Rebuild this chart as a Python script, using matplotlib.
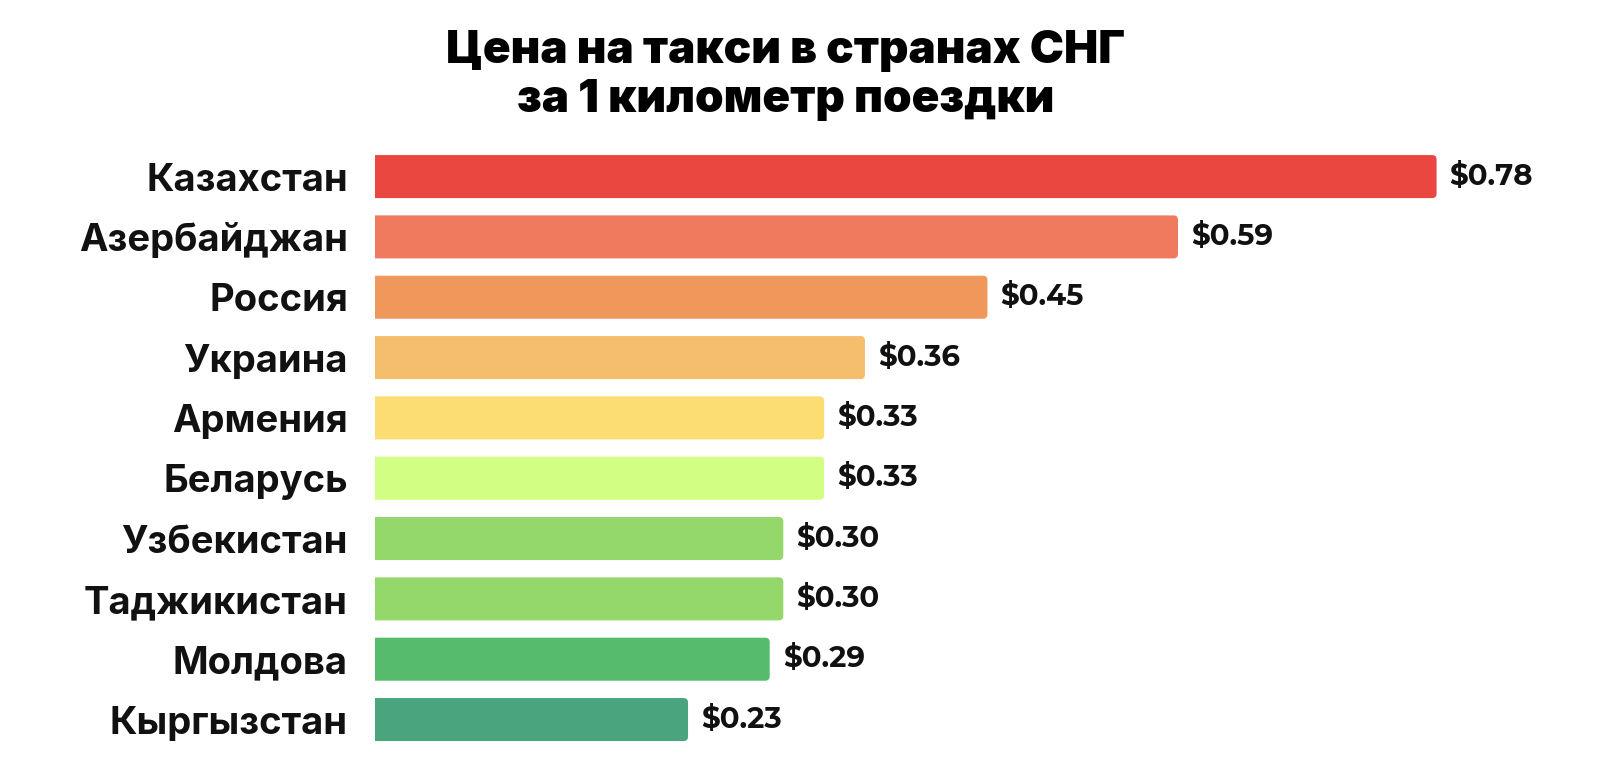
import matplotlib
matplotlib.use("Agg")
import matplotlib.pyplot as plt
from matplotlib.patches import FancyBboxPatch

countries = [
    "Казахстан",
    "Азербайджан",
    "Россия",
    "Украина",
    "Армения",
    "Беларусь",
    "Узбекистан",
    "Таджикистан",
    "Молдова",
    "Кыргызстан",
]
prices = [0.78, 0.59, 0.45, 0.36, 0.33, 0.33, 0.30, 0.30, 0.29, 0.23]
colors = [
    "#EA4740",
    "#EF7A5D",
    "#F0975B",
    "#F5BE6D",
    "#FBDD72",
    "#D2FE84",
    "#94D76A",
    "#94D76A",
    "#56BB6B",
    "#4AA57E",
]
title = "Цена на такси в странах СНГ\nза 1 километр поездки"

BAR_H = 0.713
PX = 1 / 1361  # one pixel in x data units
XMAX = 1200 * PX

fig = plt.figure(figsize=(16, 7.6), dpi=100, facecolor="white")
ax = fig.add_axes([375 / 1600, 0.01355, 1200 / 1600, 0.7938])
ax.set_xlim(0, XMAX)
ax.set_ylim(9.5, -0.5)

# invisible bars for geometry, rounded patches drawn over them
bars = ax.barh(range(len(countries)), prices, height=BAR_H, color="none")
aspect = (1 / 60.33) / PX
for bar, c in zip(bars, colors):
    x, y = bar.get_x(), bar.get_y()
    w, h = bar.get_width(), bar.get_height()
    # start left of the axes so the left corners get clipped square
    ax.add_patch(
        FancyBboxPatch(
            (x - 10 * PX, y), w + 10 * PX, h,
            boxstyle=f"round,pad=0,rounding_size={4.5 * PX}",
            mutation_aspect=aspect,
            facecolor=c, edgecolor="none",
        )
    )

for i, v in enumerate(prices):
    ax.text(v + 13 * PX, i, f"${v:.2f}", va="center", ha="left",
            fontsize=21, fontweight="bold",
            family=["Montserrat Alternates", "DejaVu Sans"], color="#111111")

ax.set_yticks(range(len(countries)))
ax.set_yticklabels(countries, fontsize=27.5, fontweight="bold",
                   family=["Inter", "DejaVu Sans"], color="#111111")
ax.tick_params(axis="y", length=0, pad=19.5)
ax.set_xticks([])
for s in ax.spines.values():
    s.set_visible(False)

fig.text(0.491, 1 - 75.5 / 760, title, ha="center", va="center",
         fontsize=33, fontweight=900, family=["Inter", "DejaVu Sans"],
         linespacing=1.2, color="black")

fig.savefig("out.png", dpi=100, facecolor="white")
